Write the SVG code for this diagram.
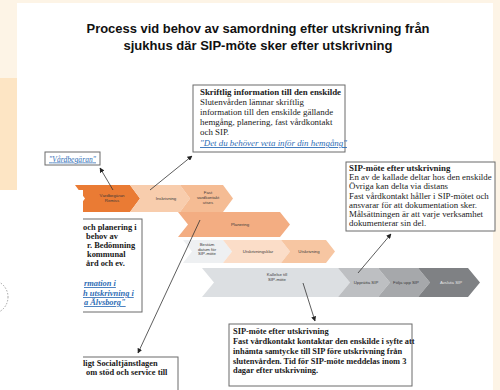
<svg xmlns="http://www.w3.org/2000/svg" width="500" height="390" viewBox="0 0 500 390">
<defs>
<style>
.title{font-family:"Liberation Sans",Arial,sans-serif;font-weight:bold;font-size:12px;fill:#111;text-anchor:middle}
.box{fill:#fff;stroke:#6b6b6b;stroke-width:1}
.bt{font-family:"Liberation Serif","Times New Roman",serif;font-size:8.9px;fill:#1a1a1a}
.bb{font-weight:bold}
.sm{font-size:8.4px}
.lk{fill:#2f6db5;font-style:italic;text-decoration:underline}
.ct{font-family:"Liberation Sans",Arial,sans-serif;font-size:4.3px;fill:#3a3a3a;text-anchor:middle}
.con{stroke:#333;stroke-width:0.8;fill:none;marker-end:url(#ah)}
</style>
<marker id="ah" viewBox="0 0 10 10" refX="9" refY="5" markerWidth="5" markerHeight="5" orient="auto-start-reverse" markerUnits="userSpaceOnUse"><path d="M0,0 L10,5 L0,10 z" fill="#222"/></marker>
</defs>
<rect x="0" y="0" width="500" height="390" fill="#fdf4e6"/>
<rect x="0" y="78" width="17" height="112" fill="#fde5c4"/>
<rect x="17" y="3" width="476" height="387" fill="#fff"/>
<g id="title">
<text class="title" x="258" y="33" textLength="343" lengthAdjust="spacingAndGlyphs">Process vid behov av samordning efter utskrivning från</text>
<text class="title" x="258" y="50" textLength="269" lengthAdjust="spacingAndGlyphs">sjukhus där SIP-möte sker efter utskrivning</text>
</g>
<g id="chevrons">
<g id="n-vardbegaran-remiss"><polygon points="75,185 130,185 140,198.5 130,212 75,212 85,198.5" fill="#ea7b34"/><text class="ct" x="112" y="197">Vårdbegäran</text><text class="ct" x="112" y="202">Remiss</text></g>
<g id="n-inskrivning"><polygon points="130,185 180,185 190,198.5 180,212 130,212 140,198.5" fill="#f8cdad"/><text class="ct" x="166" y="200">Inskrivning</text></g>
<g id="n-fast-vardkontakt"><polygon points="180,185 223,185 233,198.5 223,212 180,212 190,198.5" fill="#f5bc94"/><text class="ct" x="208" y="194">Fast</text><text class="ct" x="208" y="199">vårdkontakt</text><text class="ct" x="208" y="204">utses</text></g>
<g id="n-planering"><polygon points="178,212 280,212 290,224.5 280,237 178,237 188,224.5" fill="#f3ad82"/><text class="ct" x="240" y="226">Planering</text></g>
<g id="n-bestam"><polygon points="183,240 223,240 232,251.5 223,263 183,263 192,251.5" fill="#eef0f2"/><text class="ct" x="207" y="246">Bestäm</text><text class="ct" x="207" y="250.5">datum för</text><text class="ct" x="207" y="255">SIP-möte</text></g>
<g id="n-utskrivningsklar"><polygon points="223,240 281,240 290,251.5 281,263 223,263 232,251.5" fill="#fbddc8"/><text class="ct" x="258" y="253">Utskrivningsklar</text></g>
<g id="n-utskrivning"><polygon points="281,240 326,240 335,251.5 326,263 281,263 290,251.5" fill="#f7c6a2"/><text class="ct" x="309" y="253">Utskrivning</text></g>
<g id="n-kallelse"><polygon points="202,268 338,268 350,282.5 338,297 202,297 214,282.5" fill="#dcdfe2"/><text class="ct" x="277" y="276">Kallelse till</text><text class="ct" x="277" y="281">SIP-möte</text></g>
<g id="n-uppratta"><polygon points="338,268 378,268 390,282.5 378,297 338,297 350,282.5" fill="#bdbfc2"/><text class="ct" x="366" y="284">Upprätta SIP</text></g>
<g id="n-folja"><polygon points="378,268 418,268 430,282.5 418,297 378,297 390,282.5" fill="#a6a8ab"/><text class="ct" x="406" y="284">Följa upp SIP</text></g>
<g id="n-avsluta"><polygon points="418,268 468,268 480,282.5 468,297 418,297 430,282.5" fill="#7f8184"/><text class="ct" x="451" y="284" style="fill:#e6e6e6">Avsluta SIP</text></g>
</g>
<g id="n-vardbegaran-box">
<rect class="box" x="45" y="152" width="55" height="13"/>
<text class="bt lk" x="72.5" y="161.5" text-anchor="middle" style="font-size:7.5px" textLength="47">"Vårdbegäran"</text>
</g>
<g id="n-skriftlig">
<rect class="box" x="193" y="85" width="152" height="67"/>
<text class="bt bb" x="200" y="95">Skriftlig information till den enskilde</text>
<text class="bt" x="200" y="105">Slutenvården lämnar skriftlig</text>
<text class="bt" x="200" y="115">information till den enskilde  gällande</text>
<text class="bt" x="200" y="125">hemgång, planering, fast vårdkontakt</text>
<text class="bt" x="200" y="135">och SIP.</text>
<text class="bt lk" x="200" y="146">"Det du behöver veta inför din hemgång"</text>
</g>
<g id="n-sip-efter-1">
<rect class="box" x="346" y="162" width="149" height="69"/>
<text class="bt bb" x="349" y="171">SIP-möte efter utskrivning</text>
<text class="bt" x="349" y="180">En av de kallade deltar hos den enskilde</text>
<text class="bt" x="349" y="189">Övriga kan delta via distans</text>
<text class="bt" x="349" y="198.5">Fast vårdkontakt håller i SIP-mötet och</text>
<text class="bt" x="349" y="207.5">ansvarar för att dokumentation sker.</text>
<text class="bt" x="349" y="216.5">Målsättningen är att varje verksamhet</text>
<text class="bt" x="349" y="226">dokumenterar sin del.</text>
</g>
<g id="n-sip-efter-2">
<rect class="box" x="229" y="324" width="183" height="62"/>
<text class="bt bb sm" x="233" y="334">SIP-möte efter utskrivning</text>
<text class="bt bb sm" x="233" y="344">Fast vårdkontakt kontaktar den enskilde i syfte att</text>
<text class="bt bb sm" x="233" y="354">inhämta samtycke till SIP före utskrivning från</text>
<text class="bt bb sm" x="233" y="363.5">slutenvården. Tid för SIP-möte meddelas inom 3</text>
<text class="bt bb sm" x="233" y="373">dagar efter utskrivning.</text>
</g>
<g id="n-left-box">
<rect class="box" x="60" y="219" width="82" height="93"/>
</g>
<g id="n-left-bottom-box">
<rect class="box" x="60" y="357" width="118" height="40"/>
</g>
<g id="overlay">
<rect x="0" y="190" width="83" height="200" fill="#fff"/>
<circle cx="-9" cy="297" r="17" fill="none" stroke="#8a8a8a" stroke-width="0.8" stroke-dasharray="1.5,1.5"/>
</g>
<g id="left-texts">
<text class="bt bb sm" x="83" y="230">och planering  i</text>
<text class="bt bb sm" x="86" y="239">behov av</text>
<text class="bt bb sm" x="87" y="248">r. Bedömning</text>
<text class="bt bb sm" x="87" y="257">kommunal</text>
<text class="bt bb sm" x="86" y="266">ård och ev.</text>
<text class="bt bb sm lk" x="84" y="286">rmation i</text>
<text class="bt bb sm lk" x="83" y="296">h utskrivning i</text>
<text class="bt bb sm lk" x="84" y="305">a Älvsborg"</text>
<text class="bt bb sm" x="83" y="366">ligt Socialtjänstlagen</text>
<text class="bt bb sm" x="86" y="375">om stöd och service till</text>
</g>
<g id="connectors">
<line class="con" x1="113" y1="190" x2="100" y2="168"/>
<line class="con" x1="150" y1="190" x2="192" y2="156"/>
<line class="con" x1="200" y1="220" x2="138" y2="353"/>
<line class="con" x1="358" y1="273" x2="391" y2="234"/>
<line class="con" x1="303" y1="283" x2="315" y2="321"/>
</g>
</svg>
